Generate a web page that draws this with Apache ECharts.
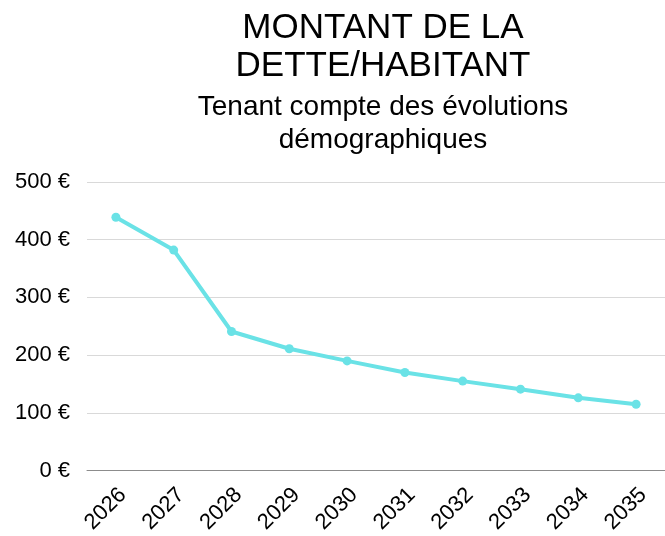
<!DOCTYPE html>
<html>
<head>
<meta charset="utf-8">
<script src="https://cdn.jsdelivr.net/npm/echarts@6/dist/echarts.min.js"></script>
<style>
  html, body { margin: 0; padding: 0; background: #fff; }
  #main { width: 665px; height: 536px; }
</style>
</head>
<body>
<div id="main"></div>
<script>
var annees = ['2026', '2027', '2028', '2029', '2030', '2031', '2032', '2033', '2034', '2035'];
var detteParHabitant = [439, 382, 241, 211, 190, 170, 155, 141, 126, 115];

var myChart = echarts.init(document.getElementById('main'));
var police = '"Liberation Sans", Arial, sans-serif';

var option = {
  backgroundColor: '#fff',
  title: [
    {
      text: 'MONTANT DE LA\nDETTE/HABITANT',
      left: 378,
      top: 4,
      textAlign: 'center',
      textStyle: { fontFamily: police, fontSize: 35, fontWeight: 'normal', color: '#000', lineHeight: 38 }
    },
    {
      text: 'Tenant compte des évolutions\ndémographiques',
      left: 378,
      top: 86,
      textAlign: 'center',
      textStyle: { fontFamily: police, fontSize: 28, fontWeight: 'normal', color: '#000', lineHeight: 33 }
    }
  ],
  grid: { left: 87, right: 0, top: 182, bottom: 64, containLabel: false },
  xAxis: {
    type: 'category',
    data: annees,
    boundaryGap: true,
    axisLine: { lineStyle: { color: '#8c8c8c', width: 1 } },
    axisTick: { show: false },
    axisLabel: {
      rotate: 45,
      margin: 28,
      padding: [0, -10, 0, 0],
      fontFamily: police,
      fontSize: 22,
      color: '#000',
      interval: 0
    }
  },
  yAxis: {
    type: 'value',
    min: 0,
    max: 500,
    interval: 100,
    axisLine: { show: false },
    axisTick: { show: false },
    splitLine: { lineStyle: { color: '#d9d9d9', width: 1 } },
    axisLabel: {
      margin: 17,
      fontFamily: police,
      fontSize: 22,
      color: '#000',
      formatter: function (v) { return v + ' €'; }
    }
  },
  series: [
    {
      type: 'line',
      data: detteParHabitant,
      symbol: 'circle',
      symbolSize: 9,
      lineStyle: { color: '#6ae2e6', width: 4 },
      itemStyle: { color: '#6ae2e6' }
    }
  ]
};

myChart.setOption(option);
</script>
</body>
</html>
